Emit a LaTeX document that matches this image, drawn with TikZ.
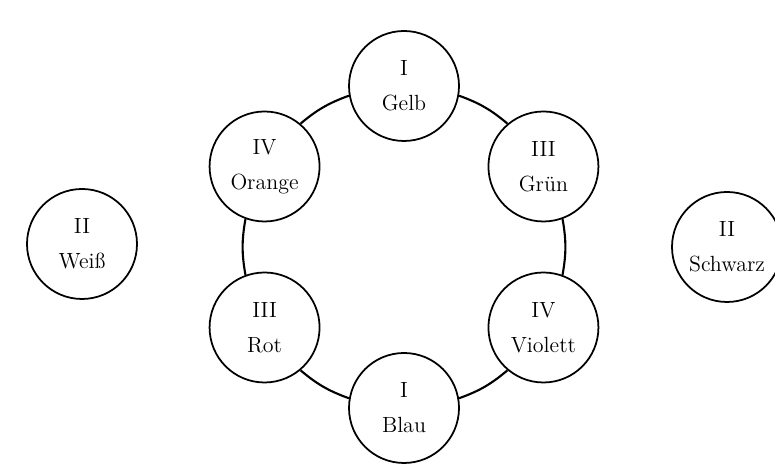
\documentclass[tikz,border=0pt]{standalone}
\usepackage{tikz}
\usetikzlibrary{positioning}
\tikzset{
    % Style for the colour circles
    farbe/.style={
           circle,
           draw=black, line width=1pt,
           minimum size=2.2cm,
           inner sep=0pt,
           align=center,
           font=\fontsize{12.5}{20}\selectfont},
    % Style for the connecting arcs
    bogen/.style={
           line width=1.2pt}
}

\begin{document}
\begin{tikzpicture}
\clip (0,0) rectangle (15.5,9.28);
% Centre of the colour ring
\coordinate (mid) at (8.08,4.34);

% The six colours of the ring
\node[farbe] (gelb)    at ([shift={(90:3.22)}]mid)  {I\\Gelb};
\node[farbe] (gruen)   at ([shift={(30:3.22)}]mid)  {III\\Grün};
\node[farbe] (violett) at ([shift={(-30:3.22)}]mid) {IV\\Violett};
\node[farbe] (blau)    at ([shift={(-90:3.22)}]mid) {I\\Blau};
\node[farbe] (rot)     at ([shift={(210:3.22)}]mid) {III\\Rot};
\node[farbe] (orange)  at ([shift={(150:3.22)}]mid) {IV\\Orange};

% White and black stand apart
\node[farbe] (weiss)   at (1.64,4.40)  {II\\Weiß};
\node[farbe] (schwarz) at (14.54,4.34) {II\\Schwarz};

% Now connect the ring, the arcs follow one big circle
\draw[bogen] (gelb.-10)     to[out=-20,in=140]  (gruen.130);
\draw[bogen] (gruen.-70)    to[out=-80,in=80]   (violett.70);
\draw[bogen] (violett.-130) to[out=-140,in=20]  (blau.10);
\draw[bogen] (blau.170)     to[out=160,in=-40]  (rot.-50);
\draw[bogen] (rot.110)      to[out=100,in=-100] (orange.-110);
\draw[bogen] (orange.50)    to[out=40,in=200]   (gelb.190);
\end{tikzpicture}
\end{document}
